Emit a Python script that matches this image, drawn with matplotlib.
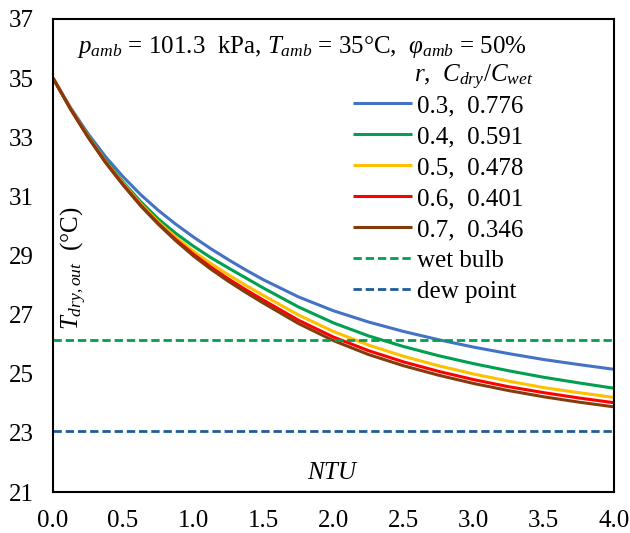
import matplotlib
matplotlib.use('Agg')
import matplotlib.pyplot as plt

plt.rcParams['font.family'] = 'Liberation Serif'
plt.rcParams['mathtext.fontset'] = 'custom'
plt.rcParams['mathtext.rm'] = 'Liberation Serif'
plt.rcParams['mathtext.it'] = 'Liberation Serif:italic'

ntu = [0.0, 0.125, 0.25, 0.375, 0.5, 0.625, 0.75, 0.875, 1.0, 1.125, 1.25,
       1.375, 1.5, 1.75, 2.0, 2.25, 2.5, 2.75, 3.0, 3.25, 3.5, 3.75, 4.0]

# outlet dry air temperature for each r, Cdry/Cwet pair
t_03 = [35.00, 34.00, 33.12, 32.34, 31.66, 31.06, 30.53, 30.06, 29.63, 29.23, 28.86,
        28.51, 28.18, 27.60, 27.13, 26.75, 26.43, 26.15, 25.90, 25.68, 25.48, 25.31, 25.15]
t_04 = [35.00, 33.98, 33.05, 32.22, 31.48, 30.82, 30.24, 29.75, 29.32, 28.93, 28.58,
        28.24, 27.90, 27.26, 26.72, 26.28, 25.92, 25.61, 25.34, 25.10, 24.88, 24.69, 24.51]
t_05 = [35.00, 33.97, 33.03, 32.18, 31.43, 30.75, 30.14, 29.62, 29.15, 28.73, 28.35,
        27.99, 27.65, 26.99, 26.43, 25.97, 25.59, 25.27, 24.99, 24.75, 24.53, 24.36, 24.20]
t_06 = [35.00, 33.96, 33.01, 32.16, 31.40, 30.71, 30.09, 29.54, 29.05, 28.61, 28.21,
        27.84, 27.49, 26.81, 26.24, 25.78, 25.40, 25.08, 24.80, 24.56, 24.36, 24.18, 24.02]
t_07 = [35.00, 33.95, 33.00, 32.14, 31.38, 30.68, 30.06, 29.50, 28.99, 28.54, 28.13,
        27.75, 27.39, 26.70, 26.12, 25.65, 25.27, 24.95, 24.67, 24.43, 24.22, 24.04, 23.88]

series = [t_03, t_04, t_05, t_06, t_07]
labels = ['0.3,  0.776', '0.4,  0.591', '0.5,  0.478', '0.6,  0.401', '0.7,  0.346']
colors = ['#4472C4', '#00A050', '#FFC000', '#FF0000', '#843C0C']

t_wet_bulb = 26.15
t_dew_point = 23.05
ntu_range = [0.0, 4.0]

fig = plt.figure(figsize=(6.3, 5.33), dpi=100)
ax = fig.add_axes([0.0841, 0.0769, 0.8905, 0.8875])

for t, lab, c in zip(series, labels, colors):
    ax.plot(ntu, t, color=c, lw=2.2, label=lab, solid_capstyle='butt')

ax.plot(ntu_range, [t_wet_bulb] * 2, color='#00A050', lw=2.0,
        dashes=(3, 1.4), label='wet bulb')
ax.plot(ntu_range, [t_dew_point] * 2, color='#1F5C99', lw=2.0,
        dashes=(3, 1.4), label='dew point')

ax.set_xlim(0, 4)
ax.set_ylim(21, 37)
ax.set_xticks([0.0, 0.5, 1.0, 1.5, 2.0, 2.5, 3.0, 3.5, 4.0])
ax.set_xticklabels(['%.1f' % v for v in ax.get_xticks()])
ax.set_yticks(range(21, 38, 2))
ax.tick_params(length=0, labelsize=18)
ax.tick_params(axis='x', pad=13)
ax.tick_params(axis='y', pad=14)
for s in ax.spines.values():
    s.set_linewidth(1.5)

ax.text(0.444, 0.94,
        r'$p_{amb}$ = 101.3  kPa, $T_{amb}$ = 35°C,  $\varphi_{amb}$ = 50%',
        transform=ax.transAxes, ha='center', va='center', fontsize=18)
ax.text(0.857, 0.877, r'$r$,  $C_{dry}/C_{wet}$',
        transform=ax.transAxes, ha='right', va='center', fontsize=18)
ax.text(0.038, 0.474, r'$T_{dry,out}$  (°C)', rotation=90,
        transform=ax.transAxes, ha='center', va='center', fontsize=18)
ax.text(0.5, 0.04, r'$NTU$', transform=ax.transAxes,
        ha='center', va='center', fontsize=18)

ax.legend(loc='upper left', bbox_to_anchor=(0.534, 0.840), frameon=False,
          fontsize=18, handlelength=2.36, handletextpad=0.22,
          labelspacing=0.34, borderpad=0, borderaxespad=0)

plt.savefig('out.png', dpi=100)
